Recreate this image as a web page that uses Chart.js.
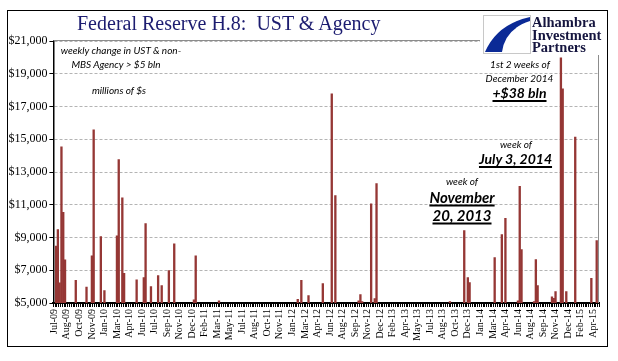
<!DOCTYPE html>
<html>
<head>
<meta charset="utf-8">
<script src="https://cdn.jsdelivr.net/npm/chart.js@4"></script>
<style>
  body { margin: 0; background: #fff; }
  #wrap { position: relative; width: 618px; height: 361px; overflow: hidden; background: #fff; }
  canvas { position: absolute; left: 0; top: 0; }
  .frame { position: absolute; left: 7px; top: 10px; width: 601px; height: 337px; border: 1.5px solid #000; box-sizing: border-box; }
  .title { position: absolute; left: 77px; top: 13px; font: 20px 'Liberation Serif', serif; line-height: 20px; color: #1c1c70; white-space: nowrap; }
  .note { position: absolute; transform: translate(-50%, -50%); font-family: Lato, 'Liberation Sans', sans-serif; font-style: italic; font-size: 10px; line-height: 1; color: #000; white-space: nowrap; }
  .big { font-weight: bold; text-decoration: underline; text-decoration-thickness: 1.5px; text-underline-offset: 2px; }
  .logo { position: absolute; left: 480px; top: 13px; width: 127px; height: 42px; background: #fff; }
  .logo svg { position: absolute; left: 3px; top: 2px; }
  .logo .name { position: absolute; left: 52px; top: 3px; font: bold 14.5px 'Liberation Serif', serif; line-height: 12.5px; color: #15153f; white-space: nowrap; }
</style>
</head>
<body>
<div id="wrap">
  <canvas id="chart" width="618" height="361"></canvas>
  <div class="frame"></div>
  <div class="title">Federal Reserve H.8:&nbsp; UST &amp; Agency</div>

  <div class="note" style="left:121px; top:50px;">weekly change in UST &amp; non-</div>
  <div class="note" style="left:116px; top:63.5px;">MBS Agency &gt; $5 bln</div>
  <div class="note" style="left:119px; top:90px;">millions of $s</div>

  <div class="note" style="left:520px; top:63.5px;">1st 2 weeks of</div>
  <div class="note" style="left:519.5px; top:77.5px;">December 2014</div>
  <div class="note big" style="left:519.5px; top:93px; font-size:14px;">+$38 bln</div>

  <div class="note" style="left:516px; top:144px;">week of</div>
  <div class="note big" style="left:515.5px; top:159px; font-size:14px;">July 3, 2014</div>

  <div class="note" style="left:462px; top:181px;">week of</div>
  <div class="note big" style="left:462px; top:197px; font-size:15px;">November</div>
  <div class="note big" style="left:462px; top:215px; font-size:15px;">20, 2013</div>

  <div class="logo">
    <svg width="48" height="39" viewBox="0 0 48 39">
      <rect x="0.5" y="0.5" width="47" height="38" fill="#fff" stroke="#c8c8c8"/>
      <path d="M47,2 L47,6 Q22,14 19,37 L2,37 Q14,9 47,2 Z" fill="#0b2a96"/>
    </svg>
    <div class="name">Alhambra<br>Investment<br>Partners</div>
  </div>
</div>

<script>
// weekly H.8 data, first week = Wed 1 Jul 2009
const firstWeek = '2009-07-01';
const weekCount = 305;

// axis labels, one every 7 weeks
const tickLabels = ['Jul-09', 'Aug-09', 'Oct-09', 'Nov-09', 'Jan-10', 'Mar-10', 'Apr-10', 'Jun-10',
    'Jul-10', 'Sep-10', 'Nov-10', 'Dec-10', 'Feb-11', 'Mar-11', 'May-11', 'Jul-11', 'Aug-11',
    'Oct-11', 'Nov-11', 'Jan-12', 'Mar-12', 'Apr-12', 'Jun-12', 'Aug-12', 'Sep-12', 'Nov-12',
    'Dec-12', 'Feb-13', 'Apr-13', 'May-13', 'Jul-13', 'Aug-13', 'Oct-13', 'Dec-13', 'Jan-14',
    'Mar-14', 'Apr-14', 'Jun-14', 'Aug-14', 'Sep-14', 'Nov-14', 'Dec-14', 'Feb-15', 'Apr-15'];
const labelEvery = 7;

// weeks (counted from firstWeek) where the change was above $5 bln, and the change in millions
const barWeeks = [1, 2, 3, 4, 5, 6, 12, 18, 21, 22, 26, 28, 35, 36, 38, 39, 46, 50, 51, 54, 58, 60,
    64, 67, 78, 79, 92, 136, 138, 142, 150, 155, 157, 170, 171, 172, 177, 179, 180, 221, 229, 231,
    232, 246, 250, 252, 259, 260, 261, 268, 269, 270, 278, 279, 280, 283, 284, 286, 291, 300, 303];
const barValues = [8500, 9500, 6250, 14550, 10550, 7650, 6400, 6000, 7900, 15600, 9080, 5780, 9120,
    13780, 11450, 6830, 6430, 6570, 9870, 6020, 6690, 6080, 7000, 8630, 5220, 7900, 5160, 5240, 6400,
    5480, 6210, 17800, 11580, 5160, 5530, 5100, 11080, 5290, 12320, 5100, 9440, 6570, 6270, 7800,
    9200, 10190, 5160, 12140, 8290, 5100, 7670, 6090, 5400, 5300, 5720, 20000, 18100, 5720, 15150,
    6520, 8830];

const yMin = 5000, yMax = 21000, yStep = 2000;

// build the weekly table
const categories = [];
const start = new Date(firstWeek + 'T00:00:00Z');
for (let i = 0; i < weekCount; i++) {
    const d = new Date(start.getTime() + i * 7 * 86400000);
    categories.push(d.toISOString().slice(0, 10));
}
const weekly = categories.map(() => null);
barWeeks.forEach((w, k) => { weekly[w] = barValues[k]; });

// gray plot border on top and right side, like the excel plot area
const plotBorder = {
    id: 'plotBorder',
    afterDraw(chart) {
        const { ctx, chartArea: a } = chart;
        ctx.save();
        ctx.strokeStyle = '#8c8c8c';
        ctx.lineWidth = 1;
        ctx.beginPath();
        ctx.moveTo(a.left, Math.round(a.top) - 0.5);
        ctx.lineTo(Math.round(a.right) - 0.5, Math.round(a.top) - 0.5);
        ctx.lineTo(Math.round(a.right) - 0.5, a.bottom);
        ctx.stroke();
        ctx.restore();
    }
};

new Chart(document.getElementById('chart'), {
    type: 'bar',
    data: {
        labels: categories,
        datasets: [{
            data: weekly,
            backgroundColor: '#953735',
            borderWidth: 0,
            barPercentage: 1.3,
            categoryPercentage: 1.0
        }]
    },
    options: {
        responsive: false,
        animation: false,
        layout: { padding: { top: 41, right: 18.6, bottom: 0, left: 0 } },
        plugins: { legend: { display: false }, tooltip: { enabled: false } },
        scales: {
            x: {
                afterFit: scale => { scale.height = 58; },
                grid: { drawOnChartArea: false, drawTicks: true, tickLength: 4, tickColor: '#000', tickWidth: 1 },
                border: { display: true, color: '#000', width: 2 },
                ticks: {
                    autoSkip: false,
                    minRotation: 90,
                    maxRotation: 90,
                    padding: 2,
                    color: '#000',
                    font: { family: 'Liberation Serif', size: 10 },
                    callback: (val, i) => (i % labelEvery === 0 ? tickLabels[i / labelEvery] : '')
                }
            },
            y: {
                min: yMin,
                max: yMax,
                afterFit: scale => { scale.width = 53.4; },
                grid: { color: '#b4b4b4', tickColor: '#000', tickLength: 4, tickBorderDash: [] },
                border: { display: true, color: '#000', width: 1.5, dash: [3, 2] },
                ticks: {
                    stepSize: yStep,
                    padding: 2,
                    color: '#000',
                    font: { family: 'Liberation Serif', size: 12 },
                    callback: v => '$' + v.toLocaleString('en-US')
                }
            }
        }
    },
    plugins: [plotBorder]
});
</script>
</body>
</html>
